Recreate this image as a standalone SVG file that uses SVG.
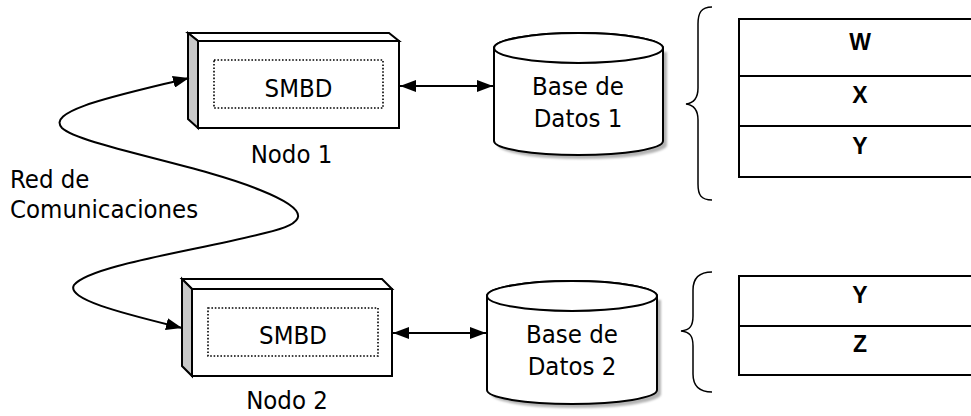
<svg xmlns="http://www.w3.org/2000/svg" width="971" height="416" viewBox="0 0 971 416">
  <style>
    .lbl { font-family: "DejaVu Sans Condensed", "DejaVu Sans", sans-serif; font-stretch: condensed; font-size: 25.5px; fill: #000; }
    .mid { text-anchor: middle; }
    .frag { font-family: "Liberation Sans", Arial, sans-serif; font-weight: bold; font-size: 23px; text-anchor: middle; fill: #000; }
    .edge { fill: none; stroke: #000; stroke-width: 2; }
    .box { fill: #fff; stroke: #000; stroke-width: 2; stroke-linejoin: miter; }
    .side { fill: #c8c8c8; stroke: #000; stroke-width: 2; }
    .dots { fill: none; stroke: #000; stroke-width: 1.6; stroke-dasharray: 1.6 1.8; }
    .cyl { fill: #fff; stroke: #000; stroke-width: 2; }
    .shadow { fill: #b4b4b4; filter: url(#soft); }
    .brace { fill: none; stroke: #000; stroke-width: 1.5; }
    .tbl { fill: #fff; stroke: #000; stroke-width: 2; }
  </style>
  <defs>
    <marker id="head" viewBox="0 0 16 12" refX="16" refY="6" markerWidth="16" markerHeight="12" markerUnits="userSpaceOnUse" orient="auto-start-reverse">
      <path d="M0,0 L16,6 L0,12 Z" fill="#000"/>
    </marker>
    <filter id="soft" x="-10%" y="-10%" width="120%" height="120%">
      <feGaussianBlur stdDeviation="1.2"/>
    </filter>
  </defs>

  <!-- Node 1 -->
  <g id="nodo1">
    <polygon class="box" points="188,33 389,33 399,41 198,41"/>
    <polygon class="side" points="188,33 198,41 198,128 188,119"/>
    <rect class="box" x="198" y="41" width="201" height="87"/>
    <rect class="dots" x="214" y="60" width="169" height="48"/>
    <text class="lbl mid" x="298.5" y="97">SMBD</text>
    <text class="lbl mid" x="291.5" y="163">Nodo 1</text>
  </g>

  <!-- Node 2 -->
  <g id="nodo2">
    <polygon class="box" points="182,279 382,279 392,289 192,289"/>
    <polygon class="side" points="182,279 192,289 192,376 182,366"/>
    <rect class="box" x="192" y="289" width="200" height="87"/>
    <rect class="dots" x="208" y="308" width="170" height="48"/>
    <text class="lbl mid" x="293" y="344">SMBD</text>
    <text class="lbl mid" x="287" y="409">Nodo 2</text>
  </g>

  <!-- Database 1 -->
  <g id="bd1">
    <path class="shadow" d="M498,52 L498,145 A84.5,14 0 0 0 667,145 L667,52 Z"/>
    <path class="cyl" d="M494,48 L494,141 A84.5,14 0 0 0 663,141 L663,48 A84.5,15 0 0 0 494,48 Z"/>
    <ellipse class="cyl" cx="578.5" cy="48" rx="84.5" ry="15"/>
    <text class="lbl mid" x="578" y="95">Base de</text>
    <text class="lbl mid" x="578" y="127">Datos 1</text>
  </g>

  <!-- Database 2 -->
  <g id="bd2">
    <path class="shadow" d="M491,300 L491,394 A85,14 0 0 0 661,394 L661,300 Z"/>
    <path class="cyl" d="M487,296 L487,390 A85,14 0 0 0 657,390 L657,296 A85,15 0 0 0 487,296 Z"/>
    <ellipse class="cyl" cx="572" cy="296" rx="85" ry="15"/>
    <text class="lbl mid" x="572" y="343">Base de</text>
    <text class="lbl mid" x="572" y="375">Datos 2</text>
  </g>

  <!-- Fragments held at site 1 -->
  <g id="frag1">
    <path class="brace" d="M712,7 C701,7 698,13 698,24 L698,88 C698,98 694,103 686,104 C694,105 698,110 698,120 L698,184 C698,195 701,200 712,200"/>
    <rect class="tbl" x="739" y="19" width="260" height="158"/>
    <line class="edge" x1="739" y1="76" x2="971" y2="76"/>
    <line class="edge" x1="739" y1="126" x2="971" y2="126"/>
    <text class="frag" x="860" y="50">W</text>
    <text class="frag" x="860" y="103">X</text>
    <text class="frag" x="860" y="154">Y</text>
  </g>

  <!-- Fragments held at site 2 -->
  <g id="frag2">
    <path class="brace" d="M712,272 C699,272 693,278 693,290 L693,316 C693,326 690,330 681,331 C690,332 693,336 693,346 L693,374 C693,386 699,392 712,392"/>
    <rect class="tbl" x="739" y="276" width="260" height="99"/>
    <line class="edge" x1="739" y1="326" x2="971" y2="326"/>
    <text class="frag" x="860" y="303">Y</text>
    <text class="frag" x="860" y="352">Z</text>
  </g>

  <!-- Network label -->
  <g id="red">
    <text class="lbl" x="10" y="188">Red de</text>
    <text class="lbl" x="10" y="218">Comunicaciones</text>
  </g>

  <!-- Connectors -->
  <g id="connectors">
    <line class="edge" x1="400" y1="86" x2="493" y2="86" marker-start="url(#head)" marker-end="url(#head)"/>
    <line class="edge" x1="393" y1="333" x2="486" y2="333" marker-start="url(#head)" marker-end="url(#head)"/>
    <path class="edge" d="M189,78 C120,95 45,110 62,128 C80,145 200,165 260,190 C315,212 305,224 265,233 C200,250 90,265 74,285 C65,300 130,315 182,328" marker-start="url(#head)" marker-end="url(#head)"/>
  </g>
</svg>
